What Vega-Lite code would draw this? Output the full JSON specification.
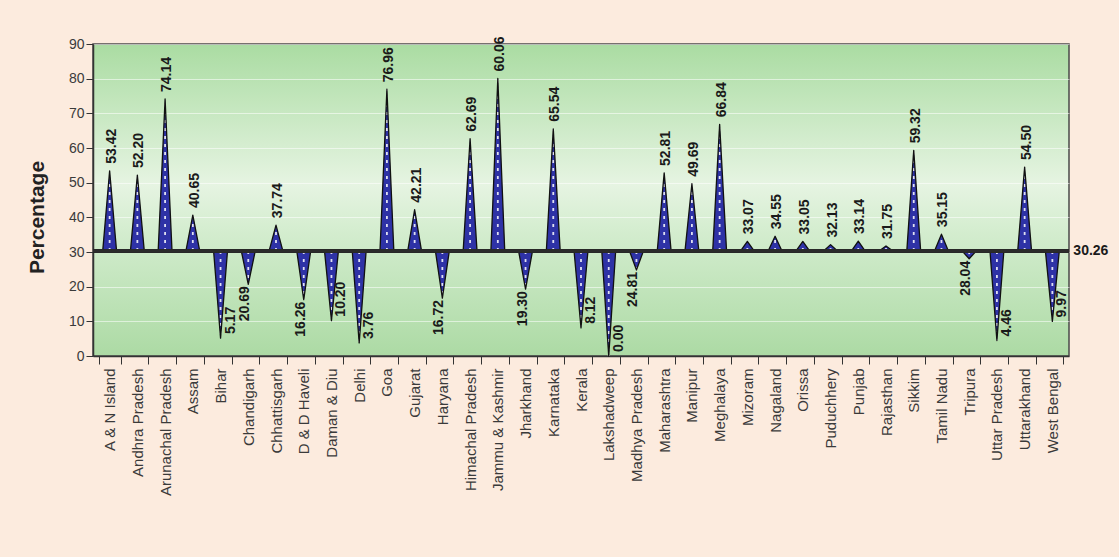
{
  "$schema": "https://vega.github.io/schema/vega-lite/v6.json",
  "autosize": "none",
  "width": 976,
  "height": 312,
  "padding": {"left": 93, "top": 44, "right": 50, "bottom": 201},
  "background": "#fcebde",
  "config": {
    "font": "Liberation Sans",
    "view": {
      "fill": {"gradient": "linear", "x1": 0, "y1": 0, "x2": 0, "y2": 1,
        "stops": [
          {"offset": 0, "color": "#aadca2"},
          {"offset": 0.45, "color": "#e6f4e2"},
          {"offset": 0.6, "color": "#d4edcf"},
          {"offset": 1, "color": "#acdaa4"}
        ]},
      "stroke": "#4a4a4a",
      "strokeWidth": 1.5
    },
    "axis": {"domainColor": "#333333", "tickColor": "#333333", "labelColor": "#3a3a3a", "domainWidth": 1.5, "titleColor": "#222222"},
    "axisY": {"grid": true, "gridColor": "#ffffff", "gridOpacity": 0.55, "tickSize": 7, "labelFontSize": 14, "titleFontSize": 21, "titleFontWeight": "bold", "titlePadding": 21, "titleY": 173},
    "axisX": {"grid": false, "labelAngle": -90, "tickBand": "extent", "tickSize": 8, "labelFontSize": 15, "labelPadding": 4},
    "scale": {"bandPaddingInner": 0, "bandPaddingOuter": 0}
  },
  "data": {"values": [
    {"state": "A & N Island", "value": 53.42, "label": "53.42", "base": 30.26},
    {"state": "Andhra Pradesh", "value": 52.20, "label": "52.20", "base": 30.26},
    {"state": "Arunachal Pradesh", "value": 74.14, "label": "74.14", "base": 30.26},
    {"state": "Assam", "value": 40.65, "label": "40.65", "base": 30.26},
    {"state": "Bihar", "value": 5.17, "label": "5.17", "base": 30.26},
    {"state": "Chandigarh", "value": 20.69, "label": "20.69", "base": 30.26},
    {"state": "Chhattisgarh", "value": 37.74, "label": "37.74", "base": 30.26},
    {"state": "D & D Haveli", "value": 16.26, "label": "16.26", "base": 30.26},
    {"state": "Daman & Diu", "value": 10.20, "label": "10.20", "base": 30.26},
    {"state": "Delhi", "value": 3.76, "label": "3.76", "base": 30.26},
    {"state": "Goa", "value": 76.96, "label": "76.96", "base": 30.26},
    {"state": "Gujarat", "value": 42.21, "label": "42.21", "base": 30.26},
    {"state": "Haryana", "value": 16.72, "label": "16.72", "base": 30.26},
    {"state": "Himachal Pradesh", "value": 62.69, "label": "62.69", "base": 30.26},
    {"state": "Jammu & Kashmir", "value": 80.06, "label": "60.06", "base": 30.26},
    {"state": "Jharkhand", "value": 19.30, "label": "19.30", "base": 30.26},
    {"state": "Karnataka", "value": 65.54, "label": "65.54", "base": 30.26},
    {"state": "Kerala", "value": 8.12, "label": "8.12", "base": 30.26},
    {"state": "Lakshadweep", "value": 0.00, "label": "0.00", "base": 30.26},
    {"state": "Madhya Pradesh", "value": 24.81, "label": "24.81", "base": 30.26},
    {"state": "Maharashtra", "value": 52.81, "label": "52.81", "base": 30.26},
    {"state": "Manipur", "value": 49.69, "label": "49.69", "base": 30.26},
    {"state": "Meghalaya", "value": 66.84, "label": "66.84", "base": 30.26},
    {"state": "Mizoram", "value": 33.07, "label": "33.07", "base": 30.26},
    {"state": "Nagaland", "value": 34.55, "label": "34.55", "base": 30.26},
    {"state": "Orissa", "value": 33.05, "label": "33.05", "base": 30.26},
    {"state": "Puduchhery", "value": 32.13, "label": "32.13", "base": 30.26},
    {"state": "Punjab", "value": 33.14, "label": "33.14", "base": 30.26},
    {"state": "Rajasthan", "value": 31.75, "label": "31.75", "base": 30.26},
    {"state": "Sikkim", "value": 59.32, "label": "59.32", "base": 30.26},
    {"state": "Tamil Nadu", "value": 35.15, "label": "35.15", "base": 30.26},
    {"state": "Tripura", "value": 28.04, "label": "28.04", "base": 30.26},
    {"state": "Uttar Pradesh", "value": 4.46, "label": "4.46", "base": 30.26},
    {"state": "Uttarakhand", "value": 54.50, "label": "54.50", "base": 30.26},
    {"state": "West Bengal", "value": 9.97, "label": "9.97", "base": 30.26}
  ]},
  "layer": [
    {
      "transform": [
        {"joinaggregate": [{"op": "max", "field": "base", "as": "base_r"}], "groupby": ["state"]},
        {"fold": ["base", "value", "base_r"], "as": ["key", "v"]}
      ],
      "mark": {"type": "area", "color": "#2e32a6"},
      "encoding": {
        "x": {"field": "state", "type": "nominal", "sort": null, "title": null, "scale": {"type": "band"}},
        "xOffset": {"field": "key", "type": "nominal", "scale": {"domain": ["base", "value", "base_r"], "paddingInner": 0, "paddingOuter": 0.6}},
        "y": {"field": "v", "type": "quantitative", "title": "Percentage", "scale": {"domain": [0, 90], "nice": false}},
        "y2": {"datum": 30.26},
        "detail": {"field": "state"}
      }
    },
    {
      "transform": [{"fold": ["base", "value"], "as": ["key", "v"]}],
      "mark": {"type": "line", "color": "#ffffff", "strokeWidth": 1.8, "strokeDash": [3, 5], "strokeCap": "butt", "opacity": 0.85},
      "encoding": {
        "x": {"field": "state", "type": "nominal", "sort": null, "title": null, "scale": {"type": "band"}},
        "y": {"field": "v", "type": "quantitative", "title": "Percentage"},
        "detail": {"field": "state"}
      }
    },
    {
      "transform": [
        {"joinaggregate": [{"op": "max", "field": "base", "as": "base_r"}], "groupby": ["state"]},
        {"fold": ["base", "value", "base_r"], "as": ["key", "v"]}
      ],
      "mark": {"type": "area", "fill": null, "fillOpacity": 0, "stroke": "#111111", "strokeWidth": 1.3, "strokeJoin": "round"},
      "encoding": {
        "x": {"field": "state", "type": "nominal", "sort": null, "title": null, "scale": {"type": "band"}},
        "xOffset": {"field": "key", "type": "nominal", "scale": {"domain": ["base", "value", "base_r"], "paddingInner": 0, "paddingOuter": 0.6}},
        "y": {"field": "v", "type": "quantitative", "title": "Percentage"},
        "y2": {"datum": 30.26},
        "detail": {"field": "state"}
      }
    },
    {
      "mark": {"type": "rule", "color": "#2b2b2b", "strokeWidth": 2.5},
      "encoding": {
        "y": {"datum": 30.26, "type": "quantitative", "title": "Percentage"}
      }
    },
    {
      "transform": [{"filter": "datum.value >= 30.26"}],
      "mark": {"type": "text", "angle": 270, "align": "left", "baseline": "middle", "dx": 7, "dy": 2, "fontSize": 14, "fontWeight": "bold", "color": "#1a1a1a"},
      "encoding": {
        "x": {"field": "state", "type": "nominal", "sort": null, "title": null, "scale": {"type": "band"}},
        "y": {"field": "value", "type": "quantitative", "title": "Percentage"},
        "text": {"field": "label"}
      }
    },
    {
      "transform": [{"filter": "datum.value < 30.26 && datum.value >= 12"}],
      "mark": {"type": "text", "angle": 270, "align": "right", "baseline": "middle", "dx": -2, "dy": -3, "fontSize": 14, "fontWeight": "bold", "color": "#1a1a1a"},
      "encoding": {
        "x": {"field": "state", "type": "nominal", "sort": null, "title": null, "scale": {"type": "band"}},
        "y": {"field": "value", "type": "quantitative", "title": "Percentage"},
        "text": {"field": "label"}
      }
    },
    {
      "transform": [{"filter": "datum.value < 12"}],
      "mark": {"type": "text", "angle": 270, "align": "left", "baseline": "middle", "dx": 4, "dy": 10, "fontSize": 14, "fontWeight": "bold", "color": "#1a1a1a"},
      "encoding": {
        "x": {"field": "state", "type": "nominal", "sort": null, "title": null, "scale": {"type": "band"}},
        "y": {"field": "value", "type": "quantitative", "title": "Percentage"},
        "text": {"field": "label"}
      }
    },
    {
      "data": {"values": [{"avg": 30.26, "t": "30.26"}]},
      "mark": {"type": "text", "align": "left", "baseline": "middle", "dx": 21, "fontSize": 14, "fontWeight": "bold", "color": "#1a1a1a"},
      "encoding": {
        "x": {"datum": "West Bengal", "type": "nominal", "scale": {"type": "band"}},
        "y": {"field": "avg", "type": "quantitative", "title": "Percentage"},
        "text": {"field": "t"}
      }
    }
  ]
}
